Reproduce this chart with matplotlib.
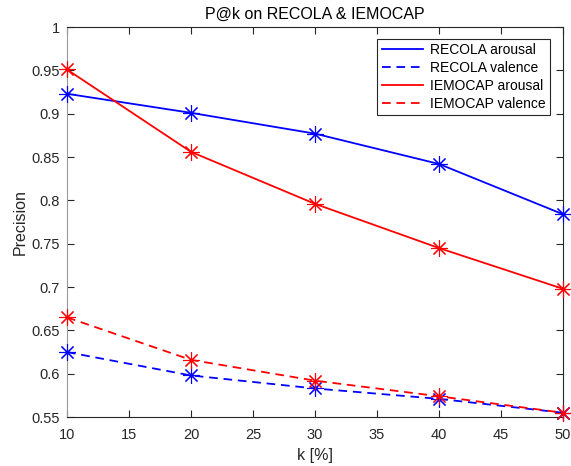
import matplotlib
matplotlib.use("Agg")
import matplotlib.pyplot as plt

k = [10, 20, 30, 40, 50]
recola_arousal = [0.923, 0.901, 0.877, 0.842, 0.784]
recola_valence = [0.625, 0.598, 0.583, 0.571, 0.555]
iemocap_arousal = [0.951, 0.856, 0.796, 0.745, 0.698]
iemocap_valence = [0.665, 0.616, 0.592, 0.574, 0.555]

xticks = [10, 15, 20, 25, 30, 35, 40, 45, 50]
yticks = [0.55, 0.6, 0.65, 0.7, 0.75, 0.8, 0.85, 0.9, 0.95, 1.0]
ytick_labels = ["0.55", "0.6", "0.65", "0.7", "0.75", "0.8", "0.85", "0.9", "0.95", "1"]

plt.rcParams['font.family'] = ['Liberation Sans', 'DejaVu Sans']

fig = plt.figure(figsize=(5.71, 4.66), dpi=100)
ax = fig.add_axes([0.1173, 0.105, 0.986 - 0.1173, 0.942 - 0.105])

lw = 1.3
ms = 12
star = (8, 2, 0)
dash = (0, (4.8, 3.2))
series = [
    (recola_arousal, '#0000ff', '-', 'RECOLA arousal'),
    (recola_valence, '#0000ff', dash, 'RECOLA valence'),
    (iemocap_arousal, '#ff0000', '-', 'IEMOCAP arousal'),
    (iemocap_valence, '#ff0000', dash, 'IEMOCAP valence'),
]
for vals, c, ls, lab in series:
    ax.plot(k, vals, color=c, ls=ls, lw=lw, marker=star, ms=ms, mew=0.8,
            label=lab, clip_on=False, zorder=3)

ax.set_xlim(10, 50)
ax.set_ylim(0.55, 1.0)
ax.set_xticks(xticks)
ax.set_yticks(yticks)
ax.set_yticklabels(ytick_labels)
ax.tick_params(direction='in', top=True, right=True, length=5, width=0.8,
               colors='#262626', labelsize=10.5, pad=5)
ax.tick_params(axis='x', pad=8)
for s in ax.spines.values():
    s.set_color('#262626')
    s.set_linewidth(0.8)
ax.spines['left'].set_color('#999999')

ax.set_xlabel('k [%]', fontsize=11.5, color='#262626', labelpad=4)
ax.set_ylabel('Precision', fontsize=11.5, color='#262626', labelpad=3)
ax.set_title('P@k on RECOLA & IEMOCAP', fontsize=11.5, color='#000000', pad=6)

leg = ax.legend(loc='upper right', fontsize=10, handlelength=2.95, handletextpad=0.55,
                borderpad=0.3, labelspacing=0.28, borderaxespad=0.0, fancybox=False,
                framealpha=1, edgecolor='#262626',
                bbox_to_anchor=(550 / 571, 1 - 39 / 466), bbox_transform=fig.transFigure)
leg.get_frame().set_linewidth(0.8)
leg.set_zorder(5)
for h in leg.legend_handles:
    h.set_marker('')

fig.savefig('out.png', dpi=100)
